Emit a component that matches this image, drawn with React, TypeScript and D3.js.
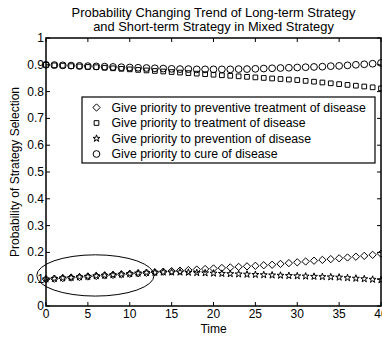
import React, { useRef, useEffect } from "react";
import * as d3 from "d3";

// time steps 0..40
const times = d3.range(0, 41);

// Give priority to preventive treatment of disease (diamonds)
const preventiveTreatment = [
  0.1, 0.102, 0.104, 0.106, 0.108, 0.11, 0.112, 0.114, 0.116, 0.118, 0.12,
  0.122, 0.124, 0.126, 0.128, 0.13, 0.132, 0.134, 0.136, 0.138, 0.14, 0.142,
  0.144, 0.146, 0.148, 0.15, 0.152, 0.154, 0.157, 0.16, 0.163, 0.166, 0.169,
  0.172, 0.175, 0.178, 0.181, 0.184, 0.187, 0.191, 0.195,
];
// Give priority to treatment of disease (squares)
const treatment = [
  0.9, 0.898, 0.897, 0.895, 0.894, 0.892, 0.891, 0.889, 0.887, 0.885, 0.883,
  0.881, 0.879, 0.877, 0.875, 0.873, 0.871, 0.869, 0.867, 0.865, 0.863, 0.861,
  0.859, 0.857, 0.855, 0.853, 0.851, 0.849, 0.847, 0.845, 0.843, 0.84, 0.837,
  0.834, 0.831, 0.828, 0.825, 0.822, 0.819, 0.816, 0.812,
];
// Give priority to prevention of disease (stars)
const prevention = [
  0.1, 0.102, 0.104, 0.106, 0.108, 0.11, 0.112, 0.114, 0.116, 0.118, 0.12,
  0.122, 0.124, 0.125, 0.126, 0.126, 0.126, 0.125, 0.124, 0.123, 0.122, 0.121,
  0.12, 0.119, 0.118, 0.117, 0.116, 0.115, 0.114, 0.113, 0.112, 0.111, 0.11,
  0.109, 0.108, 0.107, 0.105, 0.103, 0.101, 0.099, 0.097,
];
// Give priority to cure of disease (circles)
const cure = [
  0.9, 0.899, 0.898, 0.897, 0.896, 0.895, 0.894, 0.893, 0.892, 0.891, 0.89,
  0.889, 0.888, 0.887, 0.886, 0.885, 0.884, 0.884, 0.883, 0.883, 0.883, 0.883,
  0.883, 0.884, 0.884, 0.885, 0.886, 0.887, 0.888, 0.889, 0.89, 0.891, 0.892,
  0.893, 0.895, 0.896, 0.898, 0.9, 0.902, 0.904, 0.907,
];

const seriesNames = [
  "Give priority to preventive treatment of disease",
  "Give priority to treatment of disease",
  "Give priority to prevention of disease",
  "Give priority to cure of disease",
];
const xTicks = [0, 5, 10, 15, 20, 25, 30, 35, 40];
const yTicks = [0, 0.1, 0.2, 0.3, 0.4, 0.5, 0.6, 0.7, 0.8, 0.9, 1];
const titleLines = [
  "Probability Changing Trend of Long-term Strategy",
  "and Short-term Strategy in Mixed Strategy",
];

const FONT = "'Liberation Sans', Arial, sans-serif";

const App = () => {
  const ref = useRef<SVGSVGElement>(null);

  useEffect(() => {
    const svg = d3.select(ref.current);
    svg.selectAll("*").remove();

    const margin = { top: 38, right: 1, bottom: 32, left: 46 };
    const width = 382 - margin.left - margin.right;
    const height = 338 - margin.top - margin.bottom;

    const x = d3.scaleLinear().domain([0, 40]).range([0, width]);
    const y = d3.scaleLinear().domain([0, 1]).range([height, 0]);

    const g = svg
      .append("g")
      .attr("transform", `translate(${margin.left},${margin.top})`);

    // title
    titleLines.forEach((t, i) => {
      svg
        .append("text")
        .attr("x", margin.left + width / 2)
        .attr("y", 17 + i * 14)
        .attr("text-anchor", "middle")
        .style("font", `12.9px ${FONT}`)
        .text(t);
    });

    // markers
    const shapes = [
      d3.symbol().type(d3.symbolDiamond2).size(34),
      d3.symbol().type(d3.symbolSquare2).size(28),
      d3.symbol().type(d3.symbolStar).size(15),
      d3.symbol().type(d3.symbolCircle).size(36),
    ];
    const data = [preventiveTreatment, treatment, prevention, cure];

    data.forEach((vals, si) => {
      g.append("g")
        .selectAll("path")
        .data(vals)
        .enter()
        .append("path")
        .attr("d", shapes[si]() as string)
        .attr("transform", (d, i) => `translate(${x(times[i])},${y(d)})`)
        .attr("fill", "none")
        .attr("stroke", "#000")
        .attr("stroke-width", 1);
    });

    // highlight ellipse
    g.append("ellipse")
      .attr("cx", x(5.9))
      .attr("cy", y(0.114))
      .attr("rx", x(7) - x(0))
      .attr("ry", y(0) - y(0.077))
      .attr("fill", "none")
      .attr("stroke", "#000")
      .attr("stroke-width", 1);

    // axes box
    g.append("rect")
      .attr("width", width)
      .attr("height", height)
      .attr("fill", "none")
      .attr("stroke", "#000")
      .attr("stroke-width", 1.5);

    const tl = 4;
    xTicks.forEach((t) => {
      g.append("line")
        .attr("x1", x(t)).attr("x2", x(t))
        .attr("y1", height).attr("y2", height - tl)
        .attr("stroke", "#000");
      g.append("line")
        .attr("x1", x(t)).attr("x2", x(t))
        .attr("y1", 0).attr("y2", tl)
        .attr("stroke", "#000");
      g.append("text")
        .attr("x", x(t))
        .attr("y", height + 12)
        .attr("text-anchor", "middle")
        .style("font", `12px ${FONT}`)
        .text(d3.format("~g")(t));
    });
    yTicks.forEach((t) => {
      g.append("line")
        .attr("x1", 0).attr("x2", tl)
        .attr("y1", y(t)).attr("y2", y(t))
        .attr("stroke", "#000");
      g.append("line")
        .attr("x1", width).attr("x2", width - tl)
        .attr("y1", y(t)).attr("y2", y(t))
        .attr("stroke", "#000");
      g.append("text")
        .attr("x", -2)
        .attr("y", y(t) + 4)
        .attr("text-anchor", "end")
        .style("font", `12px ${FONT}`)
        .text(d3.format("~g")(t));
    });

    // axis labels
    svg
      .append("text")
      .attr("x", margin.left + width / 2)
      .attr("y", 333)
      .attr("text-anchor", "middle")
      .style("font", `12px ${FONT}`)
      .text("Time");
    svg
      .append("text")
      .attr("transform", `translate(19,${margin.top + height / 2}) rotate(-90)`)
      .attr("text-anchor", "middle")
      .style("font", `12px ${FONT}`)
      .text("Probability of Strategy Selection");

    // legend
    const lg = svg.append("g").attr("transform", "translate(82,97)");
    lg.append("rect")
      .attr("width", 293)
      .attr("height", 66)
      .attr("fill", "#fff")
      .attr("stroke", "#000")
      .attr("stroke-width", 1.2);
    seriesNames.forEach((name, i) => {
      const cy = 10.5 + i * 15.5;
      lg.append("path")
        .attr("d", shapes[i]() as string)
        .attr("transform", `translate(14.5,${cy})`)
        .attr("fill", "none")
        .attr("stroke", "#000");
      lg.append("text")
        .attr("x", 29.5)
        .attr("y", cy + 4.2)
        .style("font", `12.3px ${FONT}`)
        .text(name);
    });
  }, []);

  return (
    <>
      <style>{`body{margin:0}`}</style>
      <svg ref={ref} width={382} height={338} style={{ display: "block", background: "#fff" }} />
    </>
  );
};

export default App;
